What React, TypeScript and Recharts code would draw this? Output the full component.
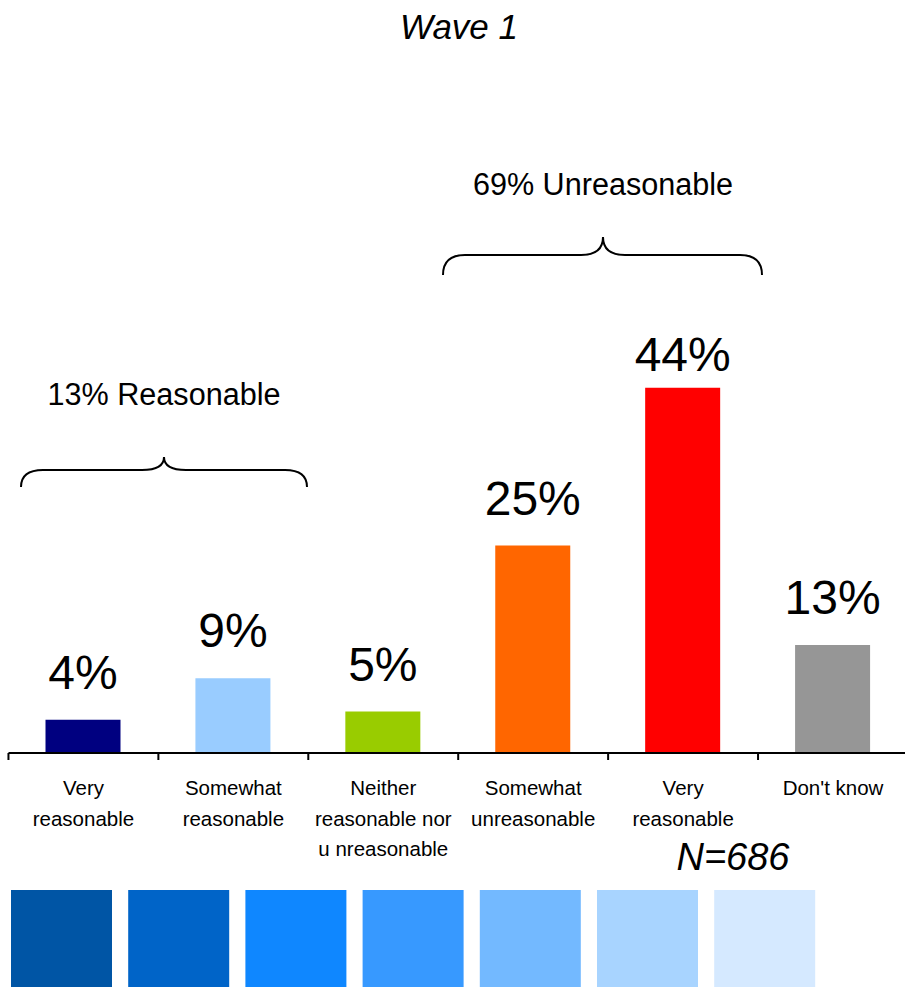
import React from "react";
import { BarChart, Bar, XAxis, YAxis, Cell, LabelList } from "recharts";

const categories = [
  "Very\nreasonable",
  "Somewhat\nreasonable",
  "Neither\nreasonable nor\nu nreasonable",
  "Somewhat\nunreasonable",
  "Very\nreasonable",
  "Don't know",
];
const values = [4, 9, 5, 25, 44, 13];
const barColors = ["#000080", "#99CCFF", "#99CC00", "#FF6600", "#FF0000", "#969696"];
const swatchColors = ["#0055A5", "#0064C8", "#0F87FF", "#3799FF", "#73B9FF", "#A8D4FF", "#D5E9FF"];

const FONT = "'Liberation Sans', Arial, Helvetica, sans-serif";
const BAND = 150;

const data = categories.map((c, i) => ({ name: c, value: values[i] }));

const Tick = (props: any) => {
  const { x, y, payload } = props;
  const lines = String(payload.value).split("\n");
  return (
    <g>
      <line x1={x - BAND / 2} y1={y} x2={x - BAND / 2} y2={y + 7} stroke="#000" strokeWidth={2} />
      <text x={x} y={y + 42} textAnchor="middle" fontFamily={FONT} fontSize={20.5} fill="#000">
        {lines.map((l, i) => (
          <tspan key={i} x={x} dy={i === 0 ? 0 : 30.5}>
            {l}
          </tspan>
        ))}
      </text>
    </g>
  );
};

const ValueLabel = (props: any) => {
  const { x, y, width, value, index } = props;
  const gap = index === 4 ? 17 : 31;
  return (
    <text x={x + width / 2} y={y - gap} textAnchor="middle" fontFamily={FONT} fontSize={48} fill="#000">
      {value}%
    </text>
  );
};

function bracePath(x1: number, x2: number, cx: number, yEnd: number, yMid: number, yTip: number) {
  const r = 22;
  return `M ${x1} ${yEnd} Q ${x1} ${yMid} ${x1 + r} ${yMid} L ${cx - r} ${yMid} Q ${cx} ${yMid} ${cx} ${yTip} Q ${cx} ${yMid} ${cx + r} ${yMid} L ${x2 - r} ${yMid} Q ${x2} ${yMid} ${x2} ${yEnd}`;
}

export default function App() {
  return (
    <div style={{ position: "absolute", left: 0, top: 0, width: 905, height: 987, overflow: "hidden", background: "#fff" }}>
      <BarChart
        width={918}
        height={987}
        data={data}
        margin={{ top: 338, right: 10, bottom: 114, left: 8.5 }}
        barSize={75}
      >
        <YAxis hide domain={[0, 50]} />
        <XAxis
          dataKey="name"
          height={120}
          interval={0}
          tickLine={false}
          tickSize={0}
          tickMargin={0}
          axisLine={{ stroke: "#000", strokeWidth: 2 }}
          tick={<Tick />}
        />
        <Bar dataKey="value" isAnimationActive={false}>
          {data.map((d, i) => (
            <Cell key={i} fill={barColors[i]} />
          ))}
          <LabelList dataKey="value" content={<ValueLabel />} />
        </Bar>
      </BarChart>
      <svg
        width={905}
        height={987}
        style={{ position: "absolute", left: 0, top: 0, pointerEvents: "none" }}
      >
        <text x={459} y={39} textAnchor="middle" fontFamily={FONT} fontStyle="italic" fontSize={35} fill="#000">
          Wave 1
        </text>
        <text x={603} y={195} textAnchor="middle" fontFamily={FONT} fontSize={30.6} fill="#000">
          69% Unreasonable
        </text>
        <path d={bracePath(443, 762, 603, 275, 255, 237)} fill="none" stroke="#000" strokeWidth={2} />
        <text x={164} y={405} textAnchor="middle" fontFamily={FONT} fontSize={30.6} fill="#000">
          13% Reasonable
        </text>
        <path d={bracePath(21, 307, 164, 487, 470, 457)} fill="none" stroke="#000" strokeWidth={2} />
        <text x={733} y={870} textAnchor="middle" fontFamily={FONT} fontStyle="italic" fontSize={38} fill="#000">
          N=686
        </text>
        {swatchColors.map((c, i) => (
          <rect key={i} x={11 + i * 117.2} y={890} width={101} height={97} fill={c} />
        ))}
      </svg>
    </div>
  );
}
